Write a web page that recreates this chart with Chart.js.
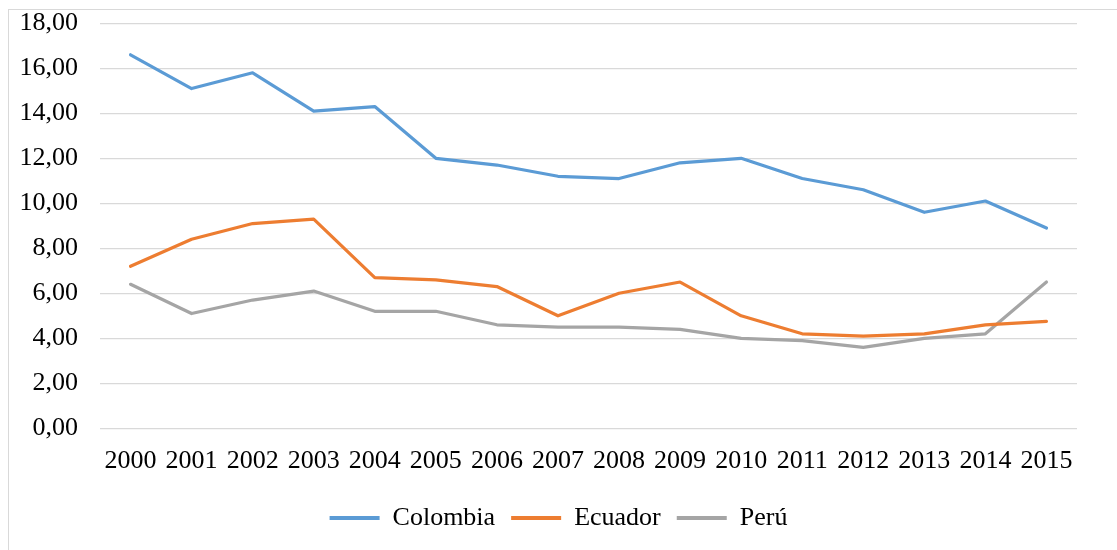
<!DOCTYPE html>
<html>
<head>
<meta charset="utf-8">
<script src="https://cdn.jsdelivr.net/npm/chart.js@4/dist/chart.umd.min.js"></script>
<style>
  html, body { margin: 0; padding: 0; background: #fff; overflow: hidden; }
  #wrap { position: relative; width: 1117px; height: 550px; }
  #frame { position: absolute; left: 8px; top: 9px; width: 1300px; height: 700px; border: 1px solid #d9d9d9; pointer-events: none; }
</style>
</head>
<body>
<div id="wrap">
  <canvas id="c"></canvas>
  <div id="frame"></div>
</div>
<script>
const years = ['2000','2001','2002','2003','2004','2005','2006','2007','2008','2009','2010','2011','2012','2013','2014','2015'];
const colombia = [16.6, 15.1, 15.8, 14.1, 14.3, 12.0, 11.7, 11.2, 11.1, 11.8, 12.0, 11.1, 10.6, 9.6, 10.1, 8.9];
const ecuador  = [7.2, 8.4, 9.1, 9.3, 6.7, 6.6, 6.3, 5.0, 6.0, 6.5, 5.0, 4.2, 4.1, 4.2, 4.6, 4.75];
const peru     = [6.4, 5.1, 5.7, 6.1, 5.2, 5.2, 4.6, 4.5, 4.5, 4.4, 4.0, 3.9, 3.6, 4.0, 4.2, 6.5];
const seriesNames = ['Colombia', 'Ecuador', 'Perú'];
const seriesColors = ['#5B9BD5', '#ED7D31', '#A5A5A5'];

const FONT = { family: '"Liberation Serif", "Times New Roman", serif', size: 26 };

function ds(label, data, color) {
  return {
    label, data,
    borderColor: color, backgroundColor: color,
    borderWidth: 3.2, pointRadius: 0, pointHoverRadius: 0,
    tension: 0, borderJoinStyle: 'round', borderCapStyle: 'round', fill: false,
    yAxisID: 'y'
  };
}

new Chart(document.getElementById('c'), {
  type: 'line',
  data: {
    labels: years,
    datasets: [
      ds(seriesNames[0], colombia, seriesColors[0]),
      ds(seriesNames[1], ecuador, seriesColors[1]),
      ds(seriesNames[2], peru, seriesColors[2])
    ]
  },
  options: {
    responsive: true,
    maintainAspectRatio: false,
    animation: false,
    layout: { padding: { top: 23.3, right: 0, bottom: 9, left: 0 } },
    plugins: {
      tooltip: { enabled: false },
      legend: {
        position: 'bottom',
        labels: {
          font: FONT,
          color: '#000',
          boxWidth: 50,
          boxHeight: 4,
          padding: 16,
          generateLabels(chart) {
            return Chart.defaults.plugins.legend.labels.generateLabels(chart).map(l => Object.assign(l, { lineWidth: 0 }));
          }
        }
      }
    },
    scales: {
      x: {
        offset: true,
        grid: { display: false, drawTicks: false },
        border: { display: false },
        ticks: { font: FONT, color: '#000', padding: 17, maxRotation: 0, autoSkip: false },
        afterFit(scale) { scale.height = 60.7; }
      },
      y: {
        min: 0, max: 18,
        grid: { color: '#d9d9d9', lineWidth: 1.3, drawTicks: false },
        border: { display: false },
        ticks: {
          stepSize: 2, font: FONT, color: '#000', padding: 22,
          callback: v => Number(v).toFixed(2).replace('.', ',')
        },
        afterFit(scale) { scale.width = 100; scale.paddingTop = 0; scale.paddingBottom = 0; }
      },
      yRight: {
        position: 'right',
        min: 0, max: 18,
        grid: { display: false, drawTicks: false },
        border: { display: false },
        ticks: { display: false },
        afterFit(scale) { scale.width = 40; scale.paddingTop = 0; scale.paddingBottom = 0; }
      }
    }
  }
});
</script>
</body>
</html>
